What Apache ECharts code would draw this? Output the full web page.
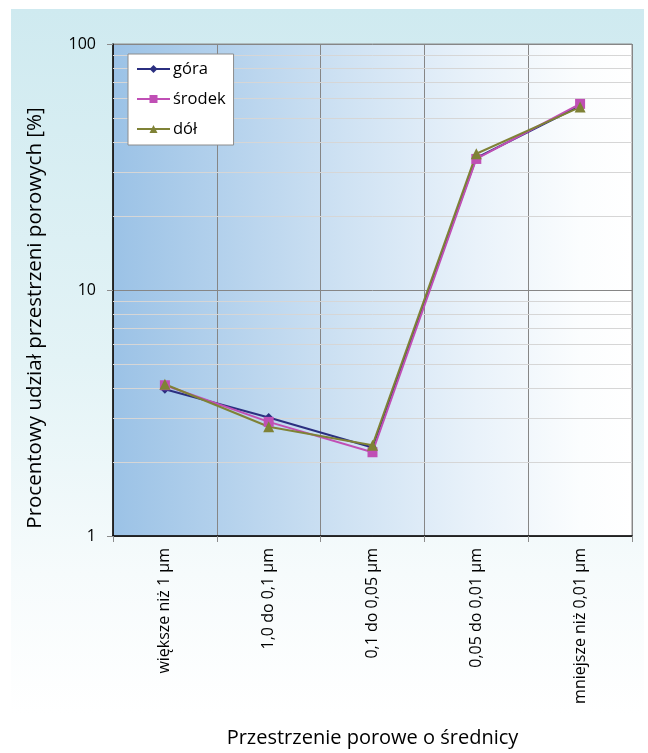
<!DOCTYPE html>
<html>
<head>
<meta charset="utf-8">
<script src="https://cdn.jsdelivr.net/npm/echarts@6/dist/echarts.min.js"></script>
<style>
  html, body { margin: 0; padding: 0; background: #ffffff; }
  #wrap { position: relative; width: 648px; height: 753px; }
  #bg { position: absolute; left: 11px; top: 9px; width: 633px; height: 705px;
        background: linear-gradient(to bottom, #cfeaf0 0%, #e3f3f6 50%, #f6fbfc 80%, #ffffff 100%); }
  #chart { position: absolute; left: 0; top: 0; width: 648px; height: 753px; }
</style>
</head>
<body>
<div id="wrap">
  <div id="bg"></div>
  <div id="chart"></div>
</div>
<script>
// Pore-size classes and the percentage share of pore space in each
const categories = ['większe niż 1 µm', '1,0 do 0,1 µm', '0,1 do 0,05 µm', '0,05 do 0,01 µm', 'mniejsze niż 0,01 µm'];
const gora   = [3.95, 3.03, 2.29, 34.4, 56.0];
const srodek = [4.10, 2.91, 2.19, 34.1, 57.1];
const dol    = [4.14, 2.78, 2.34, 35.8, 55.4];
// Minor log gridlines
const minorGrid = [2, 3, 4, 5, 6, 7, 8, 9, 20, 30, 40, 50, 60, 70, 80, 90];

const FONT = 'Open Sans';
const chart = echarts.init(document.getElementById('chart'), null, { renderer: 'canvas' });

function lineSeries(name, data, color, symbol, size, extra) {
  return Object.assign({
    name: name,
    type: 'line',
    data: data,
    symbol: symbol,
    symbolSize: size,
    showAllSymbol: true,
    lineStyle: { color: color, width: 2 },
    itemStyle: { color: color },
    z: 3
  }, extra || {});
}

chart.setOption({
  backgroundColor: 'transparent',
  animation: false,
  textStyle: { fontFamily: FONT },
  grid: {
    left: 113, right: 16, top: 44, bottom: 216,
    show: true,
    borderColor: '#8c8c8c',
    borderWidth: 1,
    backgroundColor: {
      type: 'linear', x: 0, y: 0, x2: 1, y2: 0,
      colorStops: [
        { offset: 0, color: '#9bc2e6' },
        { offset: 0.45, color: '#cfe2f3' },
        { offset: 0.7, color: '#e9f2fa' },
        { offset: 0.9, color: '#fbfdfe' },
        { offset: 1, color: '#ffffff' }
      ]
    }
  },
  legend: {
    orient: 'vertical',
    left: 128, top: 54,
    backgroundColor: '#ffffff',
    borderColor: '#8c8c8c',
    borderWidth: 1,
    borderRadius: 0,
    padding: [6, 8, 7, 8],
    itemWidth: 33, itemHeight: 10,
    itemGap: 12,
    textStyle: { fontFamily: FONT, fontSize: 16.5, lineHeight: 18, color: '#000000', padding: [0, 0, 0, -2] },
    data: ['góra', 'środek', 'dół']
  },
  xAxis: {
    type: 'category',
    data: categories,
    boundaryGap: true,
    name: 'Przestrzenie porowe o średnicy',
    nameLocation: 'middle',
    nameGap: 192,
    nameTextStyle: { fontFamily: FONT, fontSize: 20, color: '#000000' },
    axisLine: { show: true, lineStyle: { color: '#000000', width: 1.5 } },
    axisTick: { show: true, length: 6, lineStyle: { color: '#8c8c8c' } },
    axisLabel: { rotate: 90, fontFamily: FONT, fontSize: 16, color: '#000000', margin: 12 },
    splitLine: { show: true, lineStyle: { color: '#868686', width: 1 } }
  },
  yAxis: {
    type: 'log',
    logBase: 10,
    min: 1, max: 100,
    name: 'Procentowy udział przestrzeni porowych [%]',
    nameLocation: 'middle',
    nameGap: 67,
    nameTextStyle: { fontFamily: FONT, fontSize: 20.5, color: '#000000', padding: [0, 56, 0, 0] },
    axisLine: { show: true, lineStyle: { color: '#000000', width: 1.5 } },
    axisTick: { show: true, length: 6, lineStyle: { color: '#8c8c8c' } },
    axisLabel: { fontFamily: FONT, fontSize: 16, color: '#000000', margin: 17 },
    splitLine: { show: true, lineStyle: { color: '#868686', width: 1 } }
  },
  series: [
    lineSeries('góra', gora, '#2b2f80', 'diamond', 9, {
      markLine: {
        silent: true,
        symbol: ['none', 'none'],
        label: { show: false },
        lineStyle: { color: '#d6d6d6', width: 1, type: 'solid' },
        data: minorGrid.map(v => ({ yAxis: v })),
        z: 1
      }
    }),
    lineSeries('środek', srodek, '#c04fb5', 'rect', 10),
    lineSeries('dół', dol, '#7f8236', 'triangle', 11)
  ]
});
</script>
</body>
</html>
